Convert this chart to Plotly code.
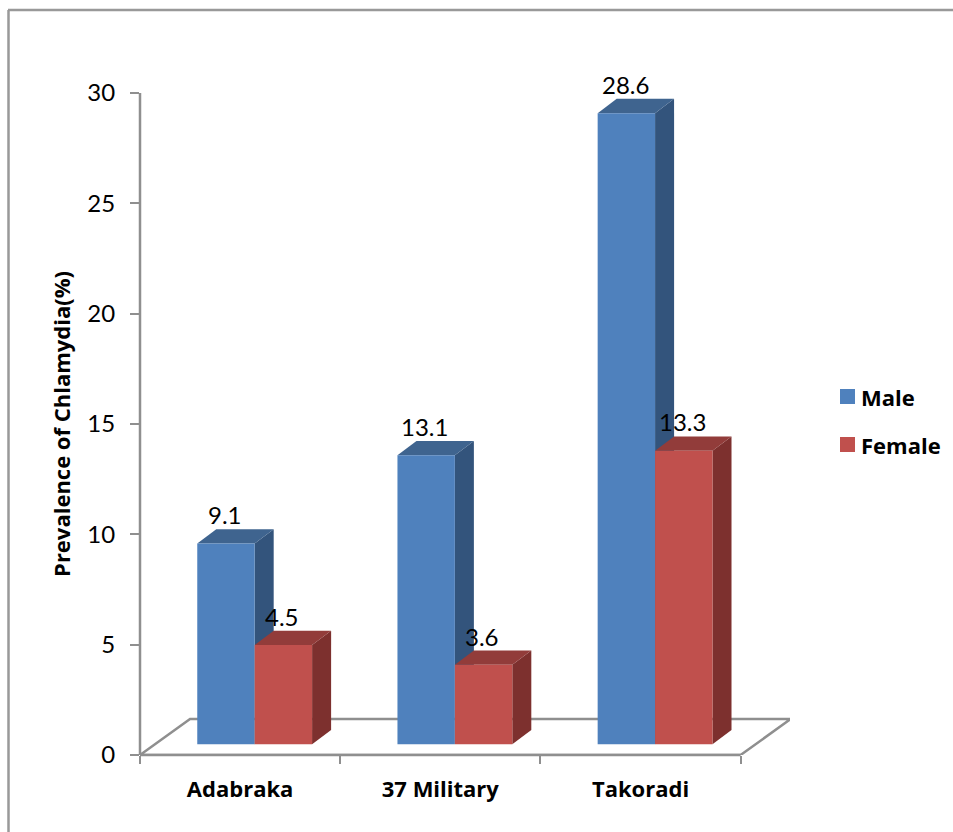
import plotly.graph_objects as go

# Chart data
categories = ["Adabraka", "37 Military", "Takoradi"]
series_names = ["Male", "Female"]
male = [9.1, 13.1, 28.6]
female = [4.5, 3.6, 13.3]
y_ticks = [0, 5, 10, 15, 20, 25, 30]
x_edges = [0, 1, 2, 3]

# Pseudo-3D geometry, in axis units
BAR_WIDTH = 0.2868
BAR_LEFT = 0.286       # offset of the male bar from the category's left edge
LIFT = 0.485           # front of the bars sits above the front of the floor
DEPTH_X = 0.095
DEPTH_Y = 0.65
FLOOR_X = 0.25
FLOOR_Y = 1.63

AXIS = "#8f8f8f"
NUM_FONT = "Lato"
BOLD_FONT = "Open Sans"
W, H = 953, 832
L, R, T, B = 140, 790, 93, 755
X_UNIT = 200.2


def paper_x(px):
    return (px - L) / (R - L)


def paper_y(py):
    return (B - py) / (B - T)


def polygon(xs, ys, color, z):
    return go.Scatter(x=xs, y=ys, mode="lines", fill="toself", fillcolor=color,
                      line=dict(width=0), hoverinfo="skip", showlegend=False,
                      zorder=z, cliponaxis=False)


fig = go.Figure()

# Floor of the 3D scene
fig.add_trace(go.Scatter(
    x=[0, 3, 3 + FLOOR_X, FLOOR_X, 0],
    y=[0, 0, FLOOR_Y, FLOOR_Y, 0],
    mode="lines", line=dict(color=AXIS, width=2.5),
    hoverinfo="skip", showlegend=False, cliponaxis=False, zorder=0,
))

series = [
    (series_names[0], male, 0, "#4f81bd", "#3f648f", "#33547c", 1),
    (series_names[1], female, 1, "#c0504d", "#923c3a", "#7d302e", 4),
]

for name, values, slot, front, top, side, z in series:
    for i, v in enumerate(values):
        x0 = i + BAR_LEFT + slot * BAR_WIDTH
        x1 = x0 + BAR_WIDTH
        y0 = LIFT
        y1 = LIFT + v
        # Side face
        fig.add_trace(polygon(
            [x1, x1 + DEPTH_X, x1 + DEPTH_X, x1, x1],
            [y0, y0 + DEPTH_Y, y1 + DEPTH_Y, y1, y0], side, z))
        # Top face
        fig.add_trace(polygon(
            [x0, x0 + DEPTH_X, x1 + DEPTH_X, x1, x0],
            [y1, y1 + DEPTH_Y, y1 + DEPTH_Y, y1, y1], top, z))
        # Value label, sitting just above the back edge of the top face
        fig.add_annotation(
            x=x0 + BAR_WIDTH / 2 - 0.006, y=y1 + DEPTH_Y, xref="x", yref="y",
            text=str(v), showarrow=False, xanchor="center", yanchor="bottom",
            yshift=-2, font=dict(family=NUM_FONT, size=24, color="#000000"))
    # Front faces
    fig.add_trace(go.Bar(
        x=[i + BAR_LEFT + slot * BAR_WIDTH for i in range(len(values))],
        y=values, base=LIFT, width=BAR_WIDTH, offset=0,
        marker=dict(color=front, line=dict(width=0)),
        hoverinfo="skip", showlegend=False, zorder=z + 1, name=name,
    ))
    # Legend key and its label
    key_mid = 397 + slot * 48
    fig.add_shape(type="rect", xref="paper", yref="paper", line=dict(width=0),
                  x0=paper_x(840), x1=paper_x(855),
                  y0=paper_y(key_mid + 7), y1=paper_y(key_mid - 8), fillcolor=front)
    fig.add_annotation(
        x=paper_x(859), y=paper_y(key_mid), xref="paper", yref="paper", text=name,
        showarrow=False, xanchor="left", yanchor="middle",
        font=dict(family=BOLD_FONT, size=22, color="#000000", weight="bold"))

# Axis lines, drawn over the plot edge so their full width shows
fig.add_shape(type="line", xref="paper", yref="paper",
              x0=0, x1=0, y0=0, y1=1, line=dict(color=AXIS, width=2.5))
fig.add_shape(type="line", xref="paper", yref="paper",
              x0=0, x1=x_edges[-1] * X_UNIT / (R - L), y0=0, y1=0,
              line=dict(color=AXIS, width=2.5))

# Frame around the chart (only the top and left edges are in view)
fig.add_shape(type="line", xref="paper", yref="paper",
              x0=paper_x(8.5), x1=paper_x(8.5), y0=paper_y(H), y1=paper_y(10),
              line=dict(color="#999999", width=2.5))
fig.add_shape(type="line", xref="paper", yref="paper",
              x0=paper_x(8), x1=paper_x(W), y0=paper_y(10), y1=paper_y(10),
              line=dict(color="#999999", width=2.5))

fig.update_layout(
    width=W, height=H,
    margin=dict(l=L, r=W - R, t=T, b=H - B, pad=0, autoexpand=False),
    paper_bgcolor="#ffffff", plot_bgcolor="#ffffff",
    barmode="overlay", showlegend=False,
    xaxis=dict(
        range=[0, (R - L) / X_UNIT], showgrid=False, zeroline=False, showline=False,
        tickmode="array", tickvals=[i + 0.5 for i in range(len(categories))],
        ticktext=categories, ticks="", ticklabelstandoff=19,
        tickfont=dict(family=BOLD_FONT, size=22, color="#000000", weight="bold"),
        minor=dict(tickmode="array", tickvals=x_edges, ticks="outside",
                   ticklen=8, tickwidth=2, tickcolor=AXIS),
    ),
    yaxis=dict(
        range=[0, 30], showgrid=False, zeroline=False, showline=False,
        tickmode="array", tickvals=y_ticks,
        ticks="outside", ticklen=9, tickwidth=2, tickcolor=AXIS, ticklabelstandoff=10,
        tickfont=dict(family=NUM_FONT, size=24, color="#000000"),
        title=dict(text="Prevalence of Chlamydia(%)", standoff=10,
                   font=dict(family=BOLD_FONT, size=22, color="#000000", weight="bold")),
    ),
)

fig.write_html("out.html")
